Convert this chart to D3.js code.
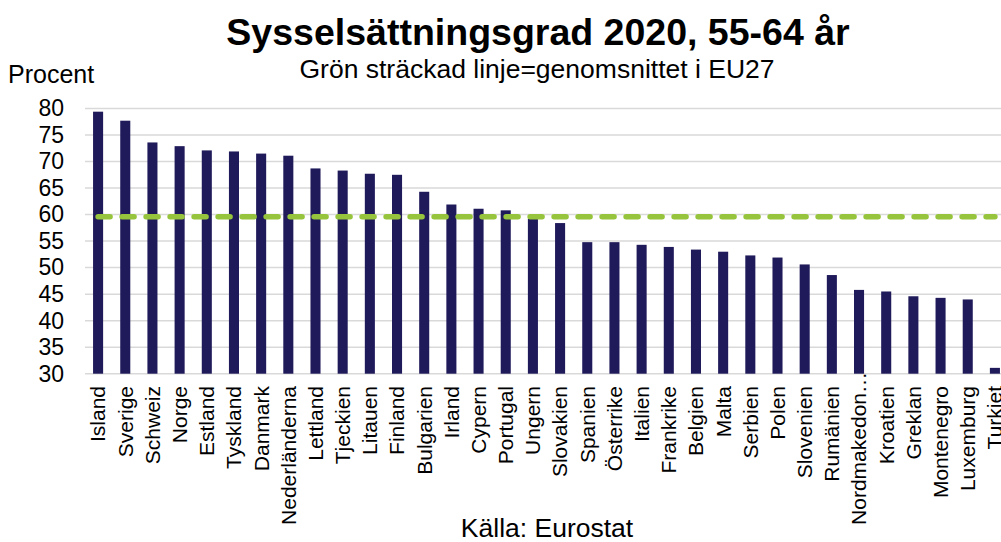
<!DOCTYPE html>
<html>
  <head>
    <style>
      body { margin: 0; background: #fff; }
      text { font-family: "Liberation Sans", Arial, sans-serif; fill: #000; }
    </style>
  </head>
  <body>
    <svg></svg>
    <script src="https://d3js.org/d3.v7.min.js"></script>
    <script>
      // data
      var countries = ["Island", "Sverige", "Schweiz", "Norge", "Estland", "Tyskland", "Danmark",
        "Nederländerna", "Lettland", "Tjeckien", "Litauen", "Finland", "Bulgarien", "Irland",
        "Cypern", "Portugal", "Ungern", "Slovakien", "Spanien", "Österrike", "Italien",
        "Frankrike", "Belgien", "Malta", "Serbien", "Polen", "Slovenien", "Rumänien",
        "Nordmakedon…", "Kroatien", "Greklan", "Montenegro", "Luxemburg", "Turkiet"];
      var rates = [79.4, 77.7, 73.6, 72.9, 72.1, 71.9, 71.5, 71.1, 68.7, 68.3, 67.7, 67.5, 64.3, 61.9,
        61.1, 60.8, 59.2, 58.4, 54.8, 54.8, 54.3, 53.9, 53.4, 53.0, 52.3, 51.9, 50.6, 48.6,
        45.8, 45.5, 44.6, 44.3, 44.0, 31.1];
      var eu27 = 59.6;
      var yTicks = [30, 35, 40, 45, 50, 55, 60, 65, 70, 75, 80];

      var svgWidth = 1001, svgHeight = 542;
      var svg = d3.select("svg")
        .attr("width", svgWidth)
        .attr("height", svgHeight);

      var x = d3.scaleBand()
        .domain(countries)
        .range([84.5, 1008.5])
        .paddingInner(0.63)
        .paddingOuter(0.315);

      var y = d3.scaleLinear()
        .domain([30, 80])
        .range([373.7, 108.5]);

      // gridlines
      svg.append("g")
        .selectAll("line")
        .data(yTicks)
        .join("line")
        .attr("x1", 85)
        .attr("x2", svgWidth)
        .attr("y1", d => y(d))
        .attr("y2", d => y(d))
        .attr("stroke", "#d9d9d9")
        .attr("stroke-width", 1.5);

      // y axis labels
      var yAxis = svg.append("g")
        .attr("transform", "translate(72,0)")
        .call(d3.axisLeft(y).tickValues(yTicks).tickSize(0).tickPadding(8));
      yAxis.select(".domain").remove();
      yAxis.selectAll("text")
        .style("font-size", "23px")
        .attr("fill", "#000");

      // bars
      svg.append("g")
        .selectAll("rect")
        .data(countries)
        .join("rect")
        .attr("x", d => x(d))
        .attr("width", x.bandwidth())
        .attr("y", (d, i) => y(rates[i]))
        .attr("height", (d, i) => y(30) - y(rates[i]))
        .attr("fill", "#1f1a5a");

      // EU27 average, dashed line from first to last category
      var line = d3.line()
        .x(d => x(d) + x.bandwidth() / 2)
        .y(() => y(eu27));

      svg.append("path")
        .attr("d", line([countries[0], countries[countries.length - 1]]))
        .attr("fill", "none")
        .attr("stroke", "#96c43c")
        .attr("stroke-width", 5.5)
        .attr("stroke-linecap", "round")
        .attr("stroke-dasharray", "12,12");

      // category labels
      var xAxis = svg.append("g")
        .attr("transform", "translate(0," + 378 + ")")
        .call(d3.axisBottom(x).tickSize(0).tickPadding(0));
      xAxis.select(".domain").remove();
      xAxis.selectAll("text")
        .style("font-size", "21px")
        .attr("fill", "#000")
        .attr("text-anchor", "end")
        .attr("transform", "rotate(-90)")
        .attr("x", d => d.endsWith("…") ? 6 : -8)
        .attr("y", 0)
        .attr("dy", "0.35em");

      // titles
      svg.append("text")
        .attr("x", 538)
        .attr("y", 45)
        .attr("text-anchor", "middle")
        .style("font-size", "37.5px")
        .style("font-weight", "bold")
        .text("Sysselsättningsgrad 2020, 55-64 år");

      svg.append("text")
        .attr("x", 537)
        .attr("y", 78)
        .attr("text-anchor", "middle")
        .style("font-size", "26.5px")
        .text("Grön sträckad linje=genomsnittet i EU27");

      svg.append("text")
        .attr("x", 8)
        .attr("y", 83)
        .style("font-size", "25px")
        .text("Procent");

      svg.append("text")
        .attr("x", 547)
        .attr("y", 537)
        .attr("text-anchor", "middle")
        .style("font-size", "26.5px")
        .text("Källa: Eurostat");
    </script>
  </body>
</html>
